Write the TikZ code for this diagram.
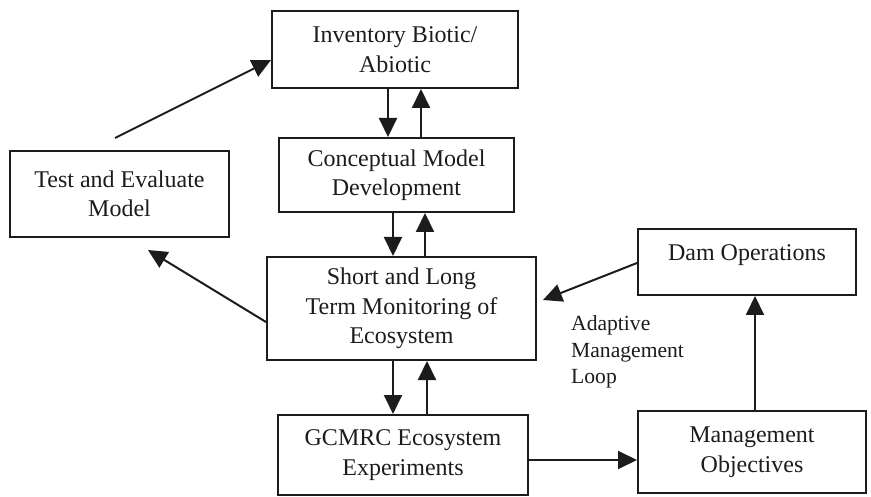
\documentclass[tikz,border=0pt]{standalone}
\usepackage{fontspec}
\setmainfont{Liberation Serif}
\usepackage{tikz}
\usetikzlibrary{arrows.meta}
\definecolor{ink}{HTML}{1C1C1C}

\begin{document}
\begin{tikzpicture}[x=1pt, y=-1pt, node distance=0pt,
	box/.style={draw=ink, line width=2pt, align=center, inner sep=0pt, text=ink,
		font=\fontsize{24}{29.5}\selectfont},
	arr/.style={draw=ink, line width=2pt, -{Triangle[width=18pt,length=19pt]}}]
			\useasboundingbox (0,0) rectangle (871,497);
			
			\node[box, minimum width=246pt, minimum height=77pt] (inv) at (395,49.5) {Inventory Biotic/\\Abiotic};
			\node[box, below of=inv, xshift=1.5pt, yshift=-125.5pt, minimum width=235pt, minimum height=74pt] (con) {Conceptual Model\\Development};
			\node[box, left of=con, xshift=-277pt, yshift=-19pt, minimum width=219pt, minimum height=86pt] (tst) {Test and Evaluate\\Model};
			\node[box, below of=con, xshift=5pt, yshift=-133.5pt, minimum width=269pt, minimum height=103pt] (mon) {Short and Long\\Term Monitoring of\\Ecosystem};
			\node[box, below of=mon, xshift=1.5pt, yshift=-146.5pt, minimum width=250pt, minimum height=80pt] (exp) {GCMRC Ecosystem\\Experiments};
			\node[box, right of=exp, xshift=349pt, yshift=3pt, minimum width=228pt, minimum height=82pt] (obj) {Management\\Objectives};
			\node[box, above of=obj, xshift=-5pt, yshift=190pt, minimum width=218pt, minimum height=66pt, text depth=19pt] (dam) {Dam Operations};
			
			\node[inner sep=0pt, anchor=west, align=left, text=ink, font=\fontsize{21.6}{26.5}\selectfont] (loop) at (571,352) {Adaptive\\Management\\Loop};
			
			% up and down between the stacked boxes
			\draw[arr] ([xshift=-7pt]inv.south) -- ([xshift=-7pt]inv.south |- con.north);
			\draw[arr] ([xshift=24.5pt]con.north) -- ([xshift=24.5pt]con.north |- inv.south);
			\draw[arr] ([xshift=-3.5pt]con.south) -- ([xshift=-3.5pt]con.south |- mon.north);
			\draw[arr] ([xshift=23.5pt]mon.north) -- ([xshift=23.5pt]mon.north |- con.south);
			\draw[arr] ([xshift=-8.5pt]mon.south) -- ([xshift=-8.5pt]mon.south |- exp.north);
			\draw[arr] ([xshift=24pt]exp.north) -- ([xshift=24pt]exp.north |- mon.south);
			
			% test loop
			\coordinate (tst-out) at (115,138);
			\coordinate (tst-in) at (148,250);
			\draw[arr] (tst-out) -- ([yshift=-10.5pt]inv.west);
			\draw[arr] ([yshift=-13.5pt]mon.west) -- (tst-in);
			
			% adaptive management loop
			\coordinate (mon-in) at (543,300);
			\draw[arr] ([yshift=-5pt]exp.east) -- ([yshift=-5pt]exp.east -| obj.west);
			\draw[arr] ([xshift=3pt]obj.north) -- ([xshift=3pt]obj.north |- dam.south);
			\draw[arr] ([yshift=-1pt]dam.west) -- (mon-in);
			
\end{tikzpicture}
\end{document}
